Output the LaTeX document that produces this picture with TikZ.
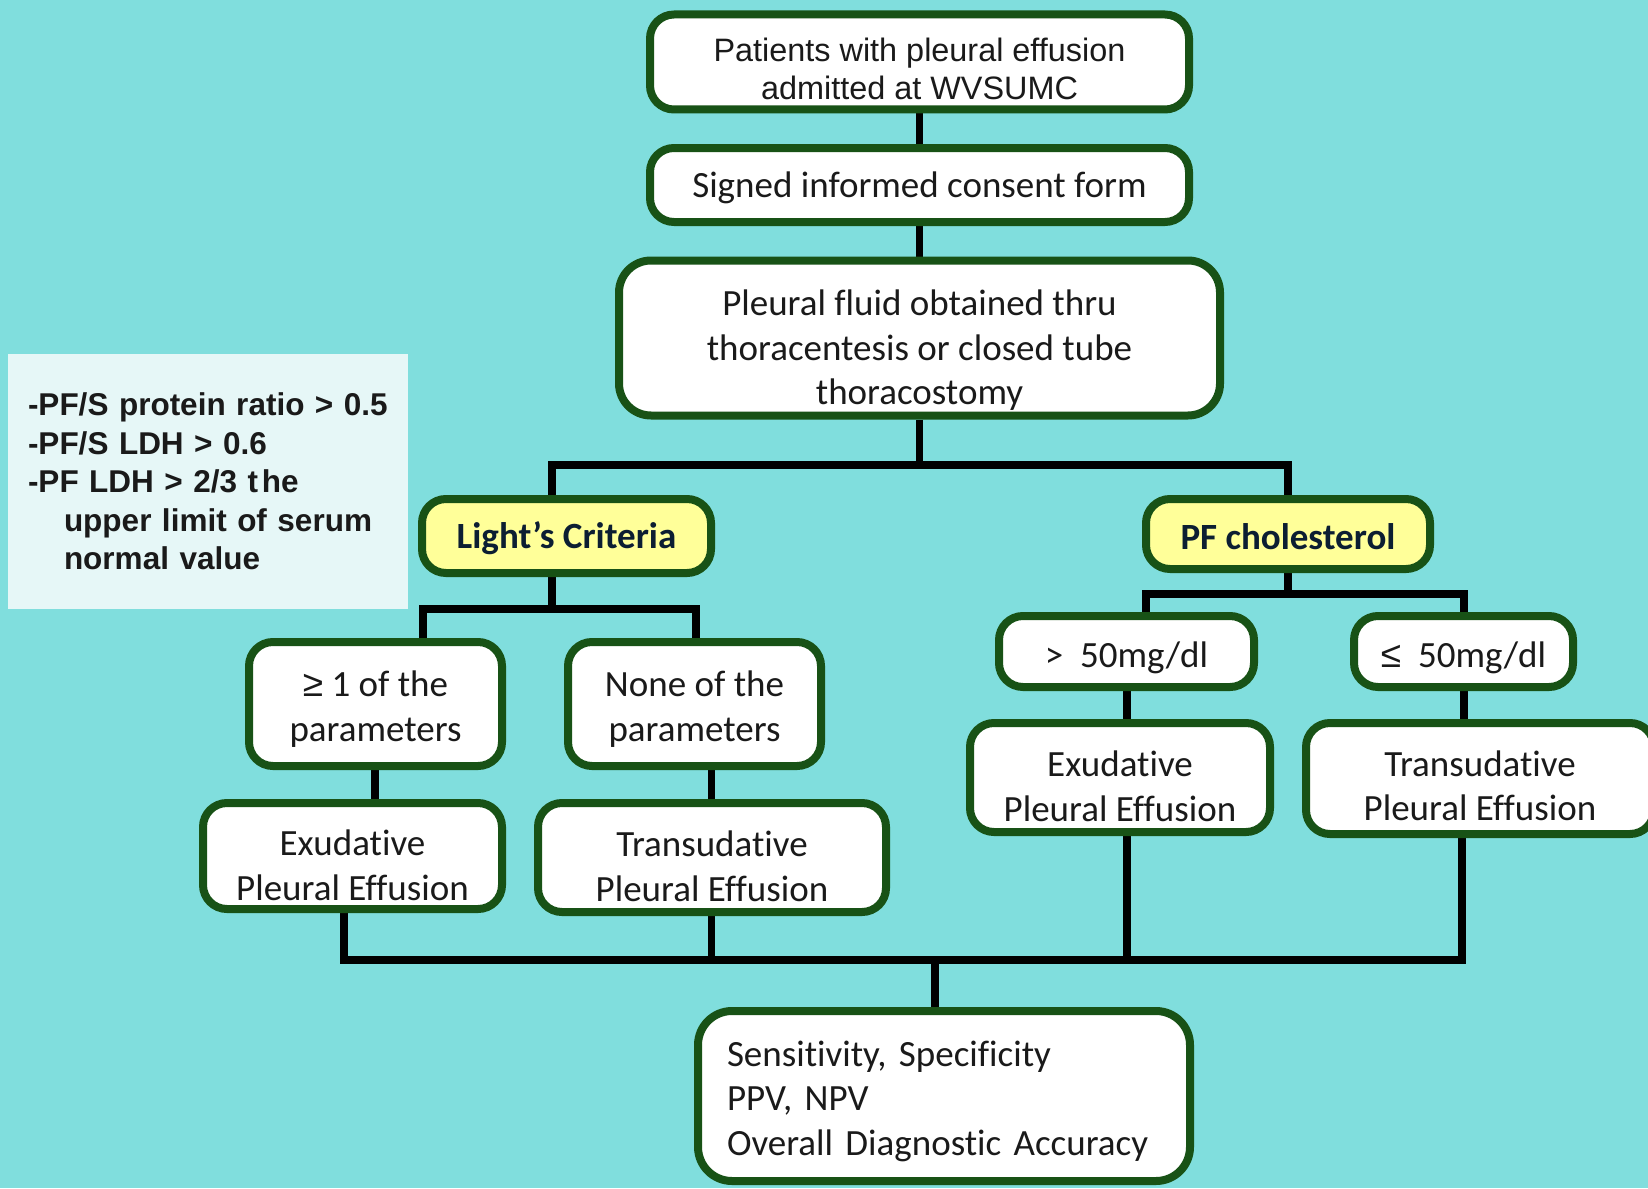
\documentclass[tikz,border=0pt]{standalone}
\usepackage{fontspec}
\setmainfont{Carlito}[Ligatures={NoCommon}]
\newfontfamily\arialf{Liberation Sans}
\usetikzlibrary{backgrounds}
\definecolor{bgc}{RGB}{128,222,221}
\definecolor{dgreen}{RGB}{24,82,22}
\definecolor{yel}{RGB}{255,255,153}
\definecolor{lbox}{RGB}{230,247,247}
\definecolor{txt}{RGB}{26,26,26}
\definecolor{navy}{RGB}{12,30,50}
\newcommand\calibsize{\fontsize{18.5pt}{22.3pt}\selectfont}
\newcommand\lowr[1]{\vrule width0pt height#1\relax}
\newcommand\geqs{{\arialf ≥}}
\newcommand\leqs{{\arialf ≤}}
\tikzset{
  box/.style={draw=dgreen, line width=4pt, rounded corners=12pt, fill=white,
    align=center, inner sep=0pt, text=txt, font=\calibsize},
  ybox/.style={box, fill=yel, text=navy, font=\calibsize\bfseries},
  conn/.style={draw=black, line width=3.9pt, line join=miter, line cap=butt}
}
\begin{document}
\begin{tikzpicture}[x=0.5pt,y=-0.5pt]
\useasboundingbox (0,0) rectangle (1648,1188);

\node[box, font=\arialf\fontsize{16.2pt}{19pt}\selectfont, minimum width=269.5pt, minimum height=47.5pt] (pat) at (919.5,62) {\lowr{18.5pt}Patients with pleural effusion\\admitted at WVSUMC};
\node[box, minimum width=269.5pt, minimum height=37pt] (sig) at (919.5,185) {\lowr{16pt}Signed informed consent form};
\node[box, rounded corners=16pt, minimum width=300.5pt, minimum height=77.5pt] (plf) at (919.5,338) {\lowr{25pt}Pleural fluid obtained thru\\thoracentesis or closed tube\\thoracostomy};
\node[ybox, minimum width=144.5pt, minimum height=37pt] (lig) at (566.5,536) {\lowr{16pt}Light’s Criteria};
\node[ybox, minimum width=142pt, minimum height=35pt] (pfc) at (1288,534) {\lowr{16pt}PF cholesterol};
\node[box, minimum width=126.5pt, minimum height=62pt] (ge) at (375.5,704) {\lowr{18pt}\geqs\ 1 of the\\parameters};
\node[box, minimum width=126.5pt, minimum height=62pt] (non) at (694.5,704) {\lowr{18pt}None of the\\parameters};
\node[box, minimum width=149.5pt, minimum height=53pt] (exl) at (352.5,856) {\lowr{22pt}Exudative\\Pleural Effusion};
\node[box, minimum width=174pt, minimum height=54.5pt] (trl) at (712,857.5) {\lowr{21.4pt}Transudative\\Pleural Effusion};
\node[box, minimum width=127.5pt, minimum height=35.5pt] (gt) at (1126.5,651.5) {\lowr{19pt}>\ \ 50mg/dl};
\node[box, minimum width=109.5pt, minimum height=35.5pt] (le) at (1463.5,651.5) {\lowr{19pt}\leqs\ \ 50mg/dl};
\node[box, minimum width=150pt, minimum height=54.5pt] (exr) at (1120,777.5) {\lowr{21.4pt}Exudative\\Pleural Effusion};
\node[box, minimum width=174pt, minimum height=55.5pt] (trr) at (1480,778.5) {\lowr{20.3pt}Transudative\\Pleural Effusion};
\node[box, rounded corners=17pt, align=left, text width=217pt, inner xsep=14.5pt, minimum height=85pt] (res) at (944,1096) {\lowr{18pt}Sensitivity, Specificity\\PPV, NPV\\Overall Diagnostic Accuracy};

\node[fill=lbox, inner xsep=10pt, inner ysep=0pt, text width=180pt, minimum height=127.5pt, align=left,
  font=\arialf\bfseries\fontsize{15.75pt}{19.25pt}\selectfont, text=txt] (crit) at (208,481.5)
  {-PF/S protein ratio > 0.5\\-PF/S LDH > 0.6\\-PF LDH > 2/3 t\hspace{0.12em}he\\\hspace*{18pt}upper limit of serum\\\hspace*{18pt}normal value};

\coordinate (t1L) at (551.6,465);
\coordinate (t1R) at (1288,465);
\coordinate (t1M) at (919.5,465);
\coordinate (t2M) at (551.6,609);
\coordinate (t2L) at (423.3,609);
\coordinate (t2R) at (696,609);
\coordinate (g1) at (375.2,0);
\coordinate (g2) at (711.5,0);
\coordinate (t3M) at (1288,594);
\coordinate (t3L) at (1145.6,594);
\coordinate (t3R) at (1464,594);
\coordinate (g3) at (1126.7,0);
\coordinate (g4) at (1464,0);
\coordinate (bL) at (343.7,960);
\coordinate (bR) at (1462,960);
\coordinate (bM) at (935,960);
\coordinate (b2) at (711.5,960);
\coordinate (b3) at (1126.7,960);

\begin{scope}[on background layer]
\fill[bgc] (0,0) rectangle (1648,1188);
\draw[conn] (pat.south) -- (sig.north);
\draw[conn] (sig.south) -- (plf.north);
\draw[conn] (plf.south) -- (t1M);
\draw[conn] (lig.north -| t1L) -- (t1L) -- (t1R) -- (pfc.north -| t1R);
\draw[conn] (lig.south -| t2M) -- (t2M);
\draw[conn] (ge.north -| t2L) -- (t2L) -- (t2R) -- (non.north -| t2R);
\draw[conn] (ge.south -| g1) -- (exl.north -| g1);
\draw[conn] (non.south -| g2) -- (trl.north -| g2);
\draw[conn] (pfc.south -| t3M) -- (t3M);
\draw[conn] (gt.north -| t3L) -- (t3L) -- (t3R) -- (le.north -| t3R);
\draw[conn] (gt.south -| g3) -- (exr.north -| g3);
\draw[conn] (le.south -| g4) -- (trr.north -| g4);
\draw[conn] (exl.south -| bL) -- (bL) -- (bR) -- (trr.south -| bR);
\draw[conn] (trl.south -| b2) -- (b2);
\draw[conn] (exr.south -| b3) -- (b3);
\draw[conn] (bM) -- (res.north -| bM);
\end{scope}
\end{tikzpicture}
\end{document}
